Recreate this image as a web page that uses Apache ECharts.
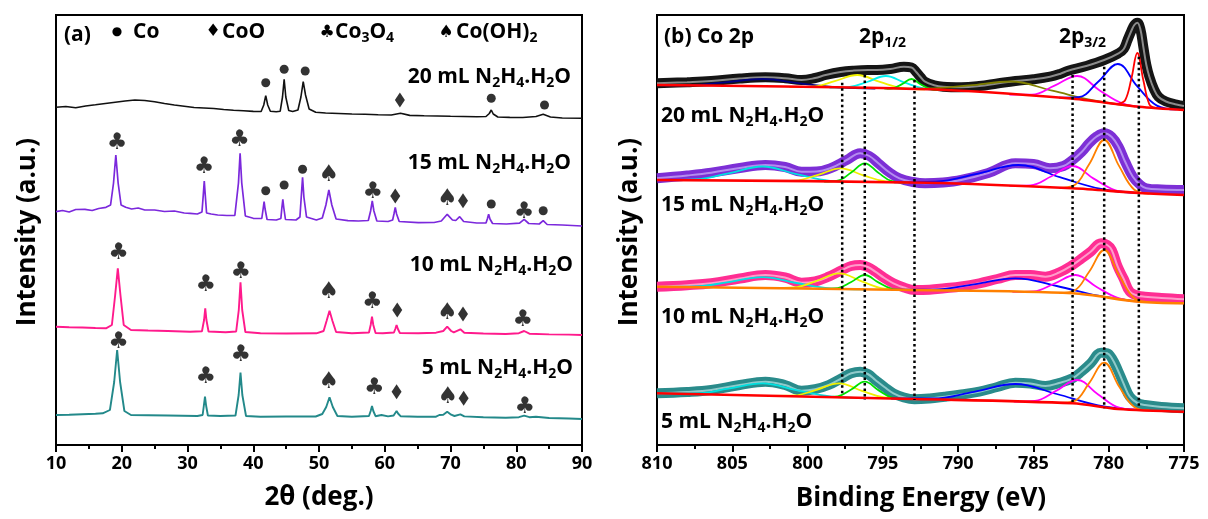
<!DOCTYPE html>
<html><head><meta charset="utf-8">
<script src="https://cdn.jsdelivr.net/npm/echarts@6/dist/echarts.min.js"></script>
<style>html,body{margin:0;padding:0;background:#fff}#c{width:1208px;height:519px}</style>
</head><body><div id="c"></div>
<script>
// ---------- (a) XRD patterns: [2theta, stacked intensity] ----------
const xrd20 = [[10,337.7],[11.5,338.5],[13,337.2],[14.5,339],[16,340.2],[17.5,341.5],[19,342.8],[20.5,344],[22,345],[23.5,344.5],[25,343.2],[26.5,341.5],[28,340],[29.5,338.8],[31,337.5],[32.5,337],[34,336.5],[35.5,335.5],[37,334.8],[38.5,334.2],[40,333.6],[41.2,333.5],[41.6,340],[41.9,349.3],[42.2,340],[42.6,333.8],[43.5,333.3],[44.1,333.8],[44.45,348],[44.7,365.7],[44.95,348],[45.4,334.5],[46,333.5],[46.8,335],[47.25,348],[47.6,363.3],[47.95,350],[48.5,336],[49.5,332.8],[51,332],[53,331.5],[55,331],[57,330.8],[59,330.3],[61,330],[62.4,331.7],[63.8,329.6],[66,329.2],[68,329],[70,328.7],[72,328.5],[74,328.2],[75.4,328.5],[75.9,331.5],[76.2,335],[76.5,331],[77.2,328],[79,327.6],[81,327.5],[83,328.5],[84.1,330.7],[85.2,328],[87,327],[90,326.7]];
const xrd15 = [[10,233.3],[11,234.5],[12,233],[13,235.5],[14.4,235.7],[15.5,234.5],[16.5,236.5],[17.6,237.7],[18.3,240],[18.75,262],[19.1,290],[19.45,262],[19.9,240],[20.6,237.7],[21.5,236],[22.5,237],[23.5,235],[25,235],[26.5,233.5],[28,234],[29.5,232],[30.4,231.7],[31.5,231],[32.2,233],[32.4,250],[32.55,264],[32.7,250],[32.9,232],[33.6,231],[34.6,230],[36,229.5],[37.2,229.5],[37.75,262],[38,291.7],[38.25,262],[38.8,229],[40,226.7],[41.3,226.5],[41.5,236],[41.65,243.3],[41.8,236],[42.1,225.5],[43.5,225],[44.2,226.5],[44.35,237],[44.5,245.7],[44.65,237],[44.9,225.5],[46.5,225],[47.1,228],[47.3,248],[47.5,267.7],[47.7,248],[48.1,228],[49.6,225],[50.5,227],[51.05,240],[51.5,255],[51.95,240],[52.6,226],[54.4,224.3],[56,224],[57.5,224.5],[57.85,234],[58.1,244],[58.35,234],[58.8,224],[60.5,223.5],[61.2,225],[61.4,231],[61.6,237.7],[61.8,231],[62.2,223.5],[65.1,222.3],[67.5,222.5],[68.6,224],[69.5,230.7],[70.3,225],[70.8,224.5],[71.4,228.3],[72,223.5],[74,222],[75.4,222],[75.6,226],[75.8,230.7],[76,226],[76.4,221.5],[78.5,221],[80.5,221.8],[81.2,225.7],[81.9,221.5],[83.5,221],[84.1,224.3],[84.7,220.5],[87,220],[90,219]];
const xrd10 = [[10,118.3],[12,117.8],[14,117.5],[16,117],[17.6,116.7],[18.5,120],[19.0,150],[19.4,176.7],[19.8,150],[20.3,120],[21.4,115],[24,114.5],[27,114],[30.4,113.3],[32.2,113.8],[32.52,125],[32.7,136.7],[32.88,125],[33.2,113.5],[35.8,112.7],[37.4,113.5],[37.8,135],[38.06,162.7],[38.32,135],[38.8,113],[41.1,111.7],[45,111.5],[49.6,111.7],[50.7,114],[51.15,124],[51.6,134.3],[52.05,124],[52.6,113],[55,111.7],[57.6,112.5],[57.86,120],[58.06,128.3],[58.26,120],[58.6,112],[59.7,111.7],[61.4,112.5],[61.6,116],[61.8,120],[62.0,116],[62.3,112],[65.1,111.7],[67.8,112.3],[68.9,114],[69.5,118.3],[70.1,114],[70.5,112.7],[71.5,115.7],[72.1,112.3],[75,111.5],[78.4,111],[80.4,111.8],[81.2,114],[82,111.3],[85,110.6],[88,110.4],[90,110]];
const xrd5 = [[10,30],[12,30.3],[14,30.8],[16,31.3],[17.1,31.7],[18.2,35],[18.85,63],[19.3,95],[19.75,63],[20.4,34],[21.4,30],[24,29.8],[27,29.5],[31.5,29],[32.3,30],[32.48,39],[32.66,48.3],[32.84,39],[33.1,29.5],[35,29],[37.3,29.5],[37.78,50],[38.06,72.3],[38.34,50],[38.9,29],[41.1,28.3],[45,28.5],[49.5,28.5],[50.5,31],[51.1,38],[51.6,47.7],[52.1,38],[52.8,29],[55,28.3],[57.6,29],[57.86,34],[58.06,39],[58.26,34],[58.6,28.8],[59.5,30],[60.5,28.6],[61.35,29.5],[61.575,31.5],[61.8,34],[62.025,31.5],[62.4,28.8],[65,28.3],[67.8,28.3],[68.3,30],[68.9,30.3],[69.5,33.3],[70.1,30.3],[70.6,29],[71.5,30.7],[72.1,28.6],[75,27.8],[78.4,27.3],[80.4,27.8],[81.2,29.3],[82,27.8],[83,28.3],[85,27],[88,26.5],[90,26]];

// phase markers [2theta, height]
const coMarks = [[41.9,362.3],[44.7,375.7],[47.9,374],[76.2,346.7],[84.3,340],[41.9,254.3],[44.7,260],[47.5,275.7],[76.2,241],[84.1,234.3]];
const cooMarks = [[62.3,345],[61.6,249],[71.9,244.3],[61.9,135],[71.9,131],[61.8,53.3],[72.0,46.7]];
const co3o4Marks = [[19.3,301.7],[32.5,278.3],[37.9,305],[58.2,253.3],[81.2,233.3],[19.5,191.7],[32.8,160],[38.1,173.3],[58.1,143.3],[81.0,125],[19.5,103.3],[32.8,67.7],[38.1,90],[58.4,56.7],[81.3,38.3]];
const cooh2Marks = [[51.5,270],[69.5,245.7],[51.5,153.3],[69.5,132.3],[51.5,63.3],[69.6,48.3]];

// ---------- (b) XPS Co 2p: [binding energy, stacked intensity] ----------
const xps20 = [[810,361.7],[808,362.8],[806.4,364],[804.5,366.5],[802.8,367.7],[801.5,366.8],[800.4,365],[799.5,367],[798.8,370],[797.8,373],[797,374.3],[796,375],[795.4,375],[794.5,376],[793.6,378.3],[793.1,377.5],[792.8,373.3],[792.5,368],[792.2,363.3],[791.6,359.8],[791,358.3],[789.8,357.8],[788.6,359],[787.4,361.5],[786.2,364],[785,365.8],[783.9,368.3],[783.2,371.3],[782.7,374.3],[781.5,379],[780.3,385],[779.35,391.7],[779,396],[778.75,405],[778.5,414],[778.3,420],[778.1,422.3],[777.9,416],[777.7,398],[777.5,380],[777.3,368.3],[777,356],[776.7,348.3],[776.2,343.5],[775.5,340.5],[775,339]];
const xps15 = [[810,266.7],[808,269.5],[806.4,272.3],[804.5,277],[802.8,280],[801.5,278],[800.4,273.3],[799.4,273.5],[798.5,276.7],[797.4,285],[796.5,291.7],[795.9,289],[795.3,281.7],[794.6,273],[793.9,266.7],[793,263],[792.2,261.7],[791,262.5],[789.8,265],[788,272],[786.2,281.7],[785,281],[783.9,276.7],[783,279],[782.4,285],[781.8,293],[781.3,301.7],[780.8,308.5],[780.3,311.7],[779.8,308],[779.35,298.3],[778.9,283],[778.4,268.3],[777.9,260],[777.5,256.7],[776.5,255.5],[775,255]];
const xps10 = [[810,158.3],[808,159.8],[806.4,161.7],[804.5,166.5],[802.8,170],[801.5,167.5],[800.4,162.3],[799.5,163.5],[798.6,168.3],[797.7,175],[797.1,179],[796.5,180],[796,178],[795.5,173.3],[794.9,167],[794.3,161.7],[793.6,157.5],[792.9,155],[791.9,155.3],[790.9,156.7],[789.8,158.5],[788.6,161.7],[787.4,166],[786.2,170],[785.2,170],[784.2,168.3],[783.3,172.5],[782.4,180],[781.8,186.5],[781.2,193.3],[780.5,201.7],[780.1,200],[779.8,195],[779.4,178.3],[779,166],[778.6,153.3],[778.1,149.5],[777.6,148.3],[776.5,147],[775,145.7]];
const xps5 = [[810,51.7],[808,53],[806.4,55],[804.5,60],[802.8,63.3],[801.5,60],[800.4,54.3],[799.5,55.8],[798.6,60],[797.7,67],[797.1,71.7],[796.5,73.3],[796,71],[795.5,65],[794.9,58],[794.3,51.7],[793.6,47.5],[792.9,45.7],[791.9,46.5],[790.9,48.3],[789.8,50.5],[788.6,53.3],[787.4,58],[786.2,62.3],[785.2,61.5],[784.2,59],[783.3,62],[782.4,66.7],[781.8,73.5],[781.2,81.7],[780.5,92.3],[780.1,91.7],[779.8,87],[779.4,75],[779,61],[778.6,48.3],[778.1,42],[777.6,40],[776.5,38],[775,36.7]];

const bg20 = [[810,360],[792,355.7],[782.7,346.7],[778,338.3],[775,335]];
const bg15 = [[810,265],[792,262.3],[782.4,256.7],[778,252],[775,250]];
const bg10 = [[810,158.3],[793,155],[782.4,151.7],[778,143.3],[775,141.7]];
const bg5  = [[810,51.7],[793,46],[782.4,41.7],[779.4,36],[775,33.3]];

const k20Navy = [[810,360],[808,359.7],[805.5,362.7],[803,366],[800.5,361.6],[798,357.6],[795.5,356.5]];
const k20Yellow = [[801.2,357.9],[799.7,358.3],[798.2,363.8],[796.7,370],[795.2,363.1],[793.7,356.9],[792.2,355.7]];
const k20Cyan = [[798.55,357.3],[797.3,357.8],[796.05,363.0],[794.8,369],[793.55,362.4],[792.3,356.6],[791.05,354.8]];
const k20Green = [[794.9,356.4],[794.3,356.9],[793.7,361.1],[793.1,366],[792.5,360.8],[791.9,356.2],[791.3,355.0]];
const k20Olive = [[794.75,356.4],[792.0,356.5],[789.25,359.6],[786.5,363.5],[783.75,354.3],[781.0,344.5],[778.25,338.7]];
const k20Magenta = [[786.6,350.5],[785.1,350.4],[783.6,359.3],[782.1,369],[780.6,354.6],[779.1,341.7],[777.6,337.9]];
const k20Blue = [[783.3,347.3],[782.0,347.8],[780.7,363.2],[779.4,381],[778.1,358.6],[776.8,339.4],[775.5,335.6]];
const k20Red = [[779.3,341.5],[778.9,345],[778.5,366.0],[778.1,392],[777.7,364.8],[777.3,340.7],[776.9,337.1]];

const p15Cyan = [[809.75,264.9],[807.5,265.5],[805.25,271.6],[803,278.5],[800.75,270.9],[798.5,264.2],[796.25,262.9]];
const p15Yellow = [[802.3,263.9],[800.8,264.4],[799.3,270.2],[797.8,276.7],[796.3,269.7],[794.8,263.5],[793.3,262.5]];
const p15Green = [[798.9,263.3],[798.0,264.3],[797.1,272.5],[796.2,281.7],[795.3,272.2],[794.4,263.8],[793.5,262.5]];
const p15Blue = [[794.25,262.6],[791.5,263.3],[788.75,271.1],[786,280],[783.25,267.8],[780.5,256.0],[777.75,251.8]];
const p15Magenta = [[786.6,259.2],[785.2,259.6],[783.8,268.7],[782.4,279],[781.0,266.4],[779.6,255.0],[778.2,252.2]];
const p15Orange = [[783.3,257.2],[782.3,259.6],[781.3,280.8],[780.3,305],[779.3,278.6],[778.3,255.3],[777.3,251.5]];

const m10Cyan = [[809.75,158.2],[807.5,158.5],[805.25,162.9],[803,167.9],[800.75,162.0],[798.5,156.7],[796.25,155.6]];
const m10Yellow = [[802.4,156.8],[800.9,157.5],[799.4,164.1],[797.9,171.7],[796.4,163.6],[794.9,156.3],[793.4,155.1]];
const m10Green = [[798.9,156.1],[798.0,156.8],[797.1,163.0],[796.2,170],[795.3,162.6],[794.4,156.2],[793.5,155.1]];
const m10Blue = [[794.45,155.3],[791.7,155.4],[788.95,160.6],[786.2,166.7],[783.45,159.0],[780.7,149.3],[777.95,143.3]];
const m10Magenta = [[786.4,153.1],[785.0,153.6],[783.6,161.5],[782.2,170],[780.8,158.0],[779.4,147.1],[778.0,143.3]];
const m10Orange = [[783.3,152.2],[782.3,154.3],[781.3,173.3],[780.3,195],[779.3,169.4],[778.3,146.7],[777.3,142.9]];

const t5Cyan = [[809.75,51.6],[807.5,51.6],[805.25,56.3],[803,61.7],[800.75,54.8],[798.5,48.6],[796.25,47.1]];
const t5Yellow = [[802.4,49.2],[800.9,49.5],[799.4,55.2],[797.9,61.7],[796.4,54.2],[794.9,47.5],[793.4,46.1]];
const t5Green = [[798.9,48.0],[798.0,48.7],[797.1,55.5],[796.2,63.3],[795.3,54.9],[794.4,47.5],[793.5,46.2]];
const t5Blue = [[794.45,46.5],[791.7,46.5],[788.95,53.2],[786.2,61],[783.45,51.0],[780.7,39.6],[777.95,35.1]];
const t5Magenta = [[786.3,43.3],[784.9,44.1],[783.5,54.1],[782.1,65],[780.7,50.5],[779.3,37.3],[777.9,35.1]];
const t5Orange = [[783.3,42.1],[782.3,43.8],[781.3,61.9],[780.3,82.3],[779.3,58.2],[778.3,38.0],[777.3,34.6]];

// reference lines [energy, top, bottom]
const dropLines = [[797.7,362.3,50],[796.2,370,45],[792.9,365,45],[782.4,370,41.7],[780.3,378.3,36.7],[778.0,388.3,36.7]];

// labels
const sampleLabels = ['20 mL N{s|2}H{s|4}.H{s|2}O','15 mL N{s|2}H{s|4}.H{s|2}O','10 mL N{s|2}H{s|4}.H{s|2}O','5 mL N{s|2}H{s|4}.H{s|2}O'];

// ---------- build ----------
const FONT = '"Open Sans"';
const subRich = {s:{fontSize:14, fontWeight:'bold', fontFamily:'Open Sans', lineHeight:14, padding:[12,0,0,0], verticalAlign:'middle', fill:'#000', color:'#000'}};
function line(data, color, width, g, z, smooth){
  return {type:'line', xAxisIndex:g, yAxisIndex:g, data:data, symbol:'none', showSymbol:false,
    smooth: smooth||false, lineStyle:{color:color, width:width}, itemStyle:{color:color}, z:z||2, silent:true, animation:false};
}
function marks(data, glyph){
  return {type:'scatter', xAxisIndex:0, yAxisIndex:0, data:data, symbol:'circle', symbolSize:1,
    itemStyle:{color:'rgba(0,0,0,0)'}, z:6, silent:true,
    label:{show:true, position:'inside', formatter:glyph, color:'#000', fontSize:23, fontFamily:'DejaVu Sans'}};
}
const series = [
  line(xrd20,'#111111',1.6,0,2), line(xrd15,'#7b28dc',1.7,0,2), line(xrd10,'#ff1a8c',1.9,0,2), line(xrd5,'#23898a',1.9,0,2),
  {type:'scatter', xAxisIndex:0, yAxisIndex:0, data:coMarks, symbol:'circle', symbolSize:9, itemStyle:{color:'#000'}, z:6, silent:true},
  {type:'scatter', xAxisIndex:0, yAxisIndex:0, data:cooMarks, symbol:'diamond', symbolSize:[10,15], itemStyle:{color:'#000'}, z:6, silent:true},
  marks(co3o4Marks,'♣'), marks(cooh2Marks,'♠')
];
const traces = [
  {d:xps20, band:'#151515', core:'#8a8a8a', bg:bg20, bgc:'#ff0000', comps:[[k20Navy,'#000080'],[k20Yellow,'#f0f000'],[k20Cyan,'#00f0f0'],[k20Green,'#00e000'],[k20Olive,'#808000'],[k20Magenta,'#ff00ff'],[k20Blue,'#0000ff'],[k20Red,'#ff0000']]},
  {d:xps15, band:'#7d2fd6', core:'#b48cf0', bg:bg15, bgc:'#ff0000', comps:[[p15Cyan,'#00e0e0'],[p15Yellow,'#f0f000'],[p15Green,'#00e000'],[p15Blue,'#0000ff'],[p15Magenta,'#ff00ff'],[p15Orange,'#ff8000']]},
  {d:xps10, band:'#ff2e93', core:'#ff9cca', bg:bg10, bgc:'#ff8000', comps:[[m10Cyan,'#00e0e0'],[m10Yellow,'#f0f000'],[m10Green,'#00e000'],[m10Blue,'#0000ff'],[m10Magenta,'#ff00ff'],[m10Orange,'#ff8000']]},
  {d:xps5, band:'#2a8b8b', core:'#8fcaca', bg:bg5, bgc:'#ff0000', comps:[[t5Cyan,'#00e0e0'],[t5Yellow,'#f0f000'],[t5Green,'#00e000'],[t5Blue,'#0000ff'],[t5Magenta,'#ff00ff'],[t5Orange,'#ff8000']]}
];
traces.forEach(t=>{
  series.push(line(t.d, t.band, 10, 1, 2, 0.4));
  series.push(line(t.d, t.core, 2, 1, 3, 0.4));
  t.comps.forEach(c=>series.push(line(c[0], c[1], 1.8, 1, 4, 0.4)));
  series.push(line(t.bg, t.bgc, 2.6, 1, 5, 0.3));
});
dropLines.forEach(l=>{
  series.push({type:'line', xAxisIndex:1, yAxisIndex:1, data:[[l[0],l[1]],[l[0],l[2]]], symbol:'none', z:7, silent:true,
    lineStyle:{color:'#000', width:2.5, type:[2.5,3]}});
});

function xAx(g, min, max, interval, inverse){
  return {gridIndex:g, type:'value', min:min, max:max, interval:interval, inverse:inverse,
    axisLine:{show:true, onZero:false, lineStyle:{color:'#000', width:2}},
    axisTick:{show:true, inside:false, length:7, lineStyle:{color:'#000', width:2}},
    minorTick:{show:true, splitNumber:2, length:4, lineStyle:{color:'#000', width:2}},
    axisLabel:{show:true, color:'#000', fontSize:18, fontWeight:'bold', fontFamily:'Open Sans', margin:10, showMinLabel:true, showMaxLabel:true},
    splitLine:{show:false}, minorSplitLine:{show:false}};
}
function yAx(g){
  return {gridIndex:g, type:'value', min:0, max:430, axisLine:{show:false}, axisTick:{show:false}, axisLabel:{show:false}, splitLine:{show:false}};
}
function txt(x, y, text, align, size, extra){
  return Object.assign({type:'text', x:x, y:y, silent:true, z:100,
    style:{text:text, fill:'#000', font:'bold '+(size||21)+'px '+FONT, textAlign:align||'left', textVerticalAlign:'middle', verticalAlign:'middle', rich:subRich}}, extra||{});
}
function glyph(x, y, g, size){
  return {type:'text', x:x, y:y, silent:true, z:100, style:{text:g, fill:'#000', font:(size||16)+'px "DejaVu Sans"', textAlign:'center', textVerticalAlign:'middle', verticalAlign:'middle'}};
}
const graphics = [
  txt(64,35,'(a)'),
  glyph(117,32,'●',12), txt(133,32,'Co'),
  glyph(213,32,'♦',17), txt(222,32,'CoO'),
  glyph(327,33,'♣',17), txt(335,32,'Co{s|3}O{s|4}'),
  glyph(446,33,'♠',17), txt(456,32,'Co(OH){s|2}'),
  txt(571,77,sampleLabels[0],'right'), txt(571,163,sampleLabels[1],'right'),
  txt(573,265,sampleLabels[2],'right'), txt(573,368,sampleLabels[3],'right'),
  txt(664,37,'(b) Co 2p'), txt(859,37,'2p{s|1/2}'), txt(1059,37,'2p{s|3/2}'),
  txt(661,116,sampleLabels[0]), txt(661,205,sampleLabels[1]), txt(661,317,sampleLabels[2]), txt(661,422,sampleLabels[3]),
  txt(28,232,'Intensity (a.u.)','center',26,{rotation:Math.PI/2}),
  txt(630,232,'Intensity (a.u.)','center',26,{rotation:Math.PI/2}),
  txt(319,498,'2θ (deg.)','center',26),
  txt(921,499,'Binding Energy (eV)','center',26)
];

const chart = echarts.init(document.getElementById('c'), null, {renderer:'canvas', width:1208, height:519});
chart.setOption({
  backgroundColor:'#ffffff', animation:false,
  grid:[
    {left:56, top:15, width:526, height:430, show:true, borderColor:'#000', borderWidth:2, backgroundColor:'rgba(0,0,0,0)', containLabel:false, outerBoundsMode:'none'},
    {left:657, top:15, width:527, height:430, show:true, borderColor:'#000', borderWidth:2, backgroundColor:'rgba(0,0,0,0)', containLabel:false, outerBoundsMode:'none'}
  ],
  xAxis:[xAx(0,10,90,10,false), xAx(1,775,810,5,true)],
  yAxis:[yAx(0), yAx(1)],
  series: series,
  graphic: graphics
});
</script></body></html>
